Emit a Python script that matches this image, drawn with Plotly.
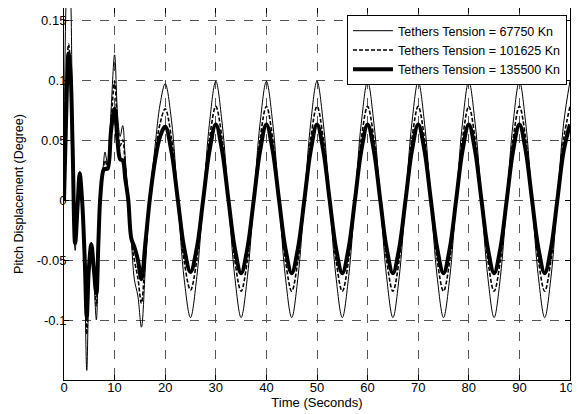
import plotly.graph_objects as go

# Time samples (seconds)
time_s = [0, 0.4, 0.9, 1.3, 1.7, 2.2, 2.7, 3.1, 3.6, 4.1, 4.5, 4.9, 5.4, 5.9, 6.4, 6.8,
          7.2, 7.8, 8.1, 8.6, 9.3, 10.0, 10.6, 11.1, 11.6, 12.1, 12.7, 13.3, 13.9, 14.6,
          15.3, 16.1, 17.0, 18.0, 19.0, 20.0, 21.25, 22.5, 23.75, 25.0,
          26.25, 27.5, 28.75, 30.0,
          31.25, 32.5, 33.75, 35.0, 36.25, 37.5, 38.75, 40.0,
          41.25, 42.5, 43.75, 45.0, 46.25, 47.5, 48.75, 50.0,
          51.25, 52.5, 53.75, 55.0, 56.25, 57.5, 58.75, 60.0,
          61.25, 62.5, 63.75, 65.0, 66.25, 67.5, 68.75, 70.0,
          71.25, 72.5, 73.75, 75.0, 76.25, 77.5, 78.75, 80.0,
          81.25, 82.5, 83.75, 85.0, 86.25, 87.5, 88.75, 90.0,
          91.25, 92.5, 93.75, 95.0, 96.25, 97.5, 98.75, 100.0]

# Pitch displacement (degree), tether tension = 67750 Kn
pitch_67750 = [0.000, 0.165, 0.210, 0.175, 0.060, -0.042, -0.005, 0.024, -0.005, -0.070,
               -0.142, -0.075, -0.035, -0.065, -0.100, -0.045, 0.005, 0.030, 0.040, 0.030,
               0.075, 0.121, 0.070, 0.053, 0.062, 0.035, 0.002, -0.033, -0.066, -0.080,
               -0.106, -0.055, 0.002, 0.045, 0.080, 0.097, 0.066, 0.000, -0.066, -0.098,
               -0.064, 0.000, 0.064, 0.099,
               0.064, 0.000, -0.064, -0.098, -0.064, 0.000, 0.064, 0.099,
               0.064, 0.000, -0.064, -0.098, -0.064, 0.000, 0.064, 0.099,
               0.064, 0.000, -0.064, -0.098, -0.064, 0.000, 0.064, 0.099,
               0.064, 0.000, -0.064, -0.098, -0.064, 0.000, 0.064, 0.099,
               0.064, 0.000, -0.064, -0.098, -0.064, 0.000, 0.064, 0.099,
               0.064, 0.000, -0.064, -0.098, -0.064, 0.000, 0.064, 0.099,
               0.064, 0.000, -0.064, -0.098, -0.064, 0.000, 0.064, 0.099]

# tether tension = 101625 Kn
pitch_101625 = [0.000, 0.080, 0.130, 0.110, 0.050, -0.038, -0.004, 0.023, -0.003, -0.060,
                -0.112, -0.065, -0.036, -0.062, -0.088, -0.040, 0.004, 0.027, 0.033, 0.028,
                0.065, 0.099, 0.060, 0.045, 0.050, 0.028, 0.000, -0.033, -0.050, -0.065,
                -0.086, -0.045, 0.002, 0.038, 0.064, 0.076, 0.051, 0.000, -0.051, -0.075,
                -0.050, 0.000, 0.051, 0.078,
                0.051, 0.000, -0.050, -0.076, -0.050, 0.000, 0.051, 0.078,
                0.051, 0.000, -0.050, -0.076, -0.050, 0.000, 0.051, 0.078,
                0.051, 0.000, -0.050, -0.076, -0.050, 0.000, 0.051, 0.078,
                0.051, 0.000, -0.050, -0.076, -0.050, 0.000, 0.051, 0.078,
                0.051, 0.000, -0.050, -0.076, -0.050, 0.000, 0.051, 0.078,
                0.051, 0.000, -0.050, -0.076, -0.050, 0.000, 0.051, 0.078,
                0.051, 0.000, -0.050, -0.076, -0.050, 0.000, 0.051, 0.078]

# tether tension = 135500 Kn
pitch_135500 = [0.000, 0.065, 0.122, 0.105, 0.045, -0.036, -0.004, 0.022, -0.002, -0.050,
                -0.097, -0.058, -0.037, -0.058, -0.078, -0.035, 0.004, 0.025, 0.026, 0.026,
                0.058, 0.076, 0.048, 0.034, 0.033, 0.018, 0.000, -0.032, -0.039, -0.050,
                -0.066, -0.035, 0.002, 0.033, 0.053, 0.061, 0.040, 0.000, -0.040, -0.060,
                -0.040, 0.000, 0.041, 0.063,
                0.041, 0.000, -0.040, -0.061, -0.040, 0.000, 0.041, 0.063,
                0.041, 0.000, -0.040, -0.061, -0.040, 0.000, 0.041, 0.063,
                0.041, 0.000, -0.040, -0.061, -0.040, 0.000, 0.041, 0.063,
                0.041, 0.000, -0.040, -0.061, -0.040, 0.000, 0.041, 0.063,
                0.041, 0.000, -0.040, -0.061, -0.040, 0.000, 0.041, 0.063,
                0.041, 0.000, -0.040, -0.061, -0.040, 0.000, 0.041, 0.063,
                0.041, 0.000, -0.040, -0.061, -0.040, 0.000, 0.041, 0.063]

series_names = ["Tethers Tension = 67750 Kn",
                "Tethers Tension = 101625 Kn",
                "Tethers Tension = 135500 Kn"]

x_ticks = [0, 10, 20, 30, 40, 50, 60, 70, 80, 90, 100]
y_ticks = [-0.1, -0.05, 0, 0.05, 0.1, 0.15]
y_tick_labels = ["-0.1", "-0.05", "0", "0.05", "0.1", "0.15"]

fig = go.Figure()
fig.add_trace(go.Scatter(x=time_s, y=pitch_67750, name=series_names[0], mode="lines",
                         line=dict(color="black", width=1, shape="spline")))
fig.add_trace(go.Scatter(x=time_s, y=pitch_101625, name=series_names[1], mode="lines",
                         line=dict(color="black", width=1.6, shape="spline", dash="4px,2px")))
fig.add_trace(go.Scatter(x=time_s, y=pitch_135500, name=series_names[2], mode="lines",
                         line=dict(color="black", width=4, shape="spline")))

axis_common = dict(showline=True, linecolor="black", linewidth=1, mirror="ticks",
                   ticks="inside", ticklen=5, tickcolor="black",
                   showgrid=True, gridcolor="#555555", gridwidth=1, griddash="dash",
                   zeroline=False, tickfont=dict(size=13), ticklabeloverflow="allow")

# The page body has an 8px margin, so the figure is sized to fit the 580x414 window.
fig.update_layout(
    width=572, height=406,
    margin=dict(l=56, r=10, t=0, b=34),
    paper_bgcolor="white", plot_bgcolor="white",
    font=dict(family="Liberation Sans, Arial, sans-serif", size=13, color="black"),
    xaxis=dict(range=[0, 100], tickvals=x_ticks, ticklabelstandoff=-5,
               title=dict(text="Time (Seconds)", standoff=2, font=dict(size=13)),
               **axis_common),
    yaxis=dict(range=[-0.15, 0.16], tickvals=y_ticks, ticktext=y_tick_labels,
               ticklabelstandoff=-6,
               title=dict(text="Pitch Displacement (Degree)", standoff=10, font=dict(size=12.5)),
               **axis_common),
    legend=dict(x=0.994, y=0.981, xanchor="right", yanchor="top",
                bgcolor="white", bordercolor="black", borderwidth=1,
                font=dict(size=12.5), itemwidth=40, tracegroupgap=0),
    showlegend=True,
)

fig.write_html("out.html")
